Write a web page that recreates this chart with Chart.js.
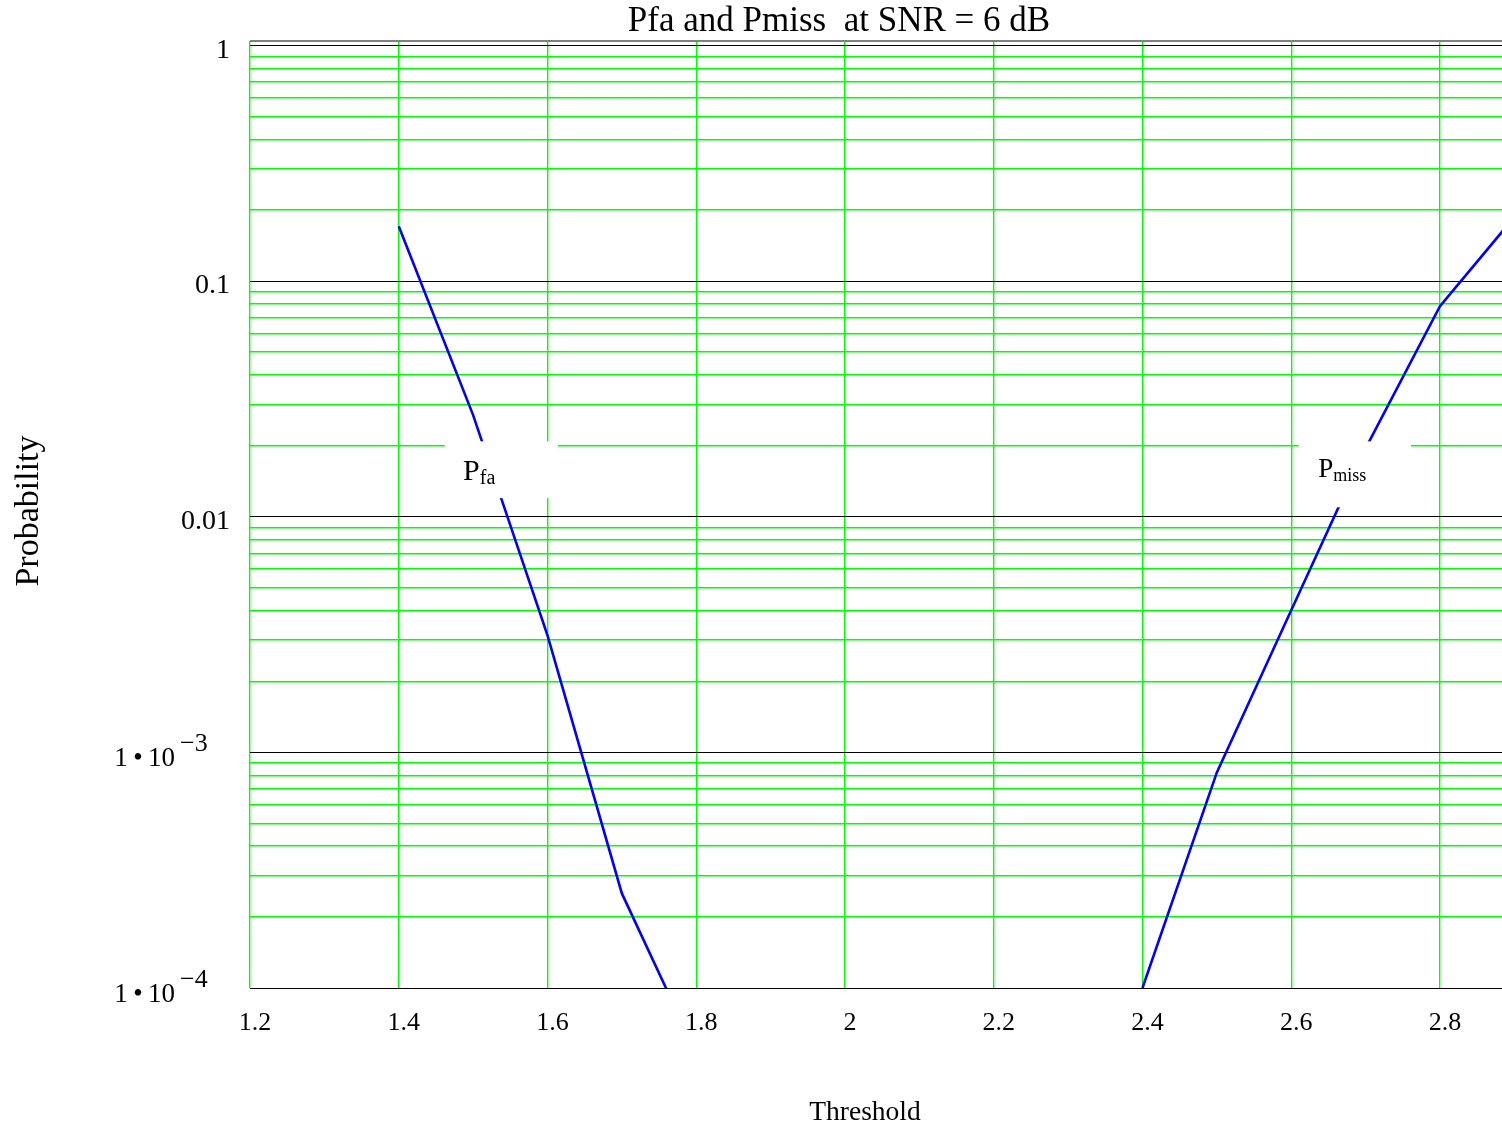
<!DOCTYPE html>
<html>
<head>
<meta charset="utf-8">
<title>Pfa and Pmiss at SNR = 6 dB</title>
<script src="https://cdn.jsdelivr.net/npm/chart.js@4/dist/chart.umd.min.js"></script>
<style>
  html, body { margin: 0; padding: 0; background: #fff; }
  canvas { display: block; }
</style>
</head>
<body>
<canvas id="probChart" width="1502" height="1128"></canvas>
<script>
// threshold samples and probabilities
const pfaThreshold = [1.4, 1.5, 1.6, 1.7, 1.8];
const pfaValues = [0.171, 0.027, 0.00314, 0.000252, 0.000053];

const pmissThreshold = [2.4, 2.5, 2.6, 2.7, 2.8, 2.9];
const pmissValues = [0.0001, 0.000822, 0.00401, 0.0195, 0.0783, 0.187];

// axis ticks
const xTickValues = [1.2, 1.4, 1.6, 1.8, 2, 2.2, 2.4, 2.6, 2.8];
const xTickLabels = ["1.2", "1.4", "1.6", "1.8", "2", "2.2", "2.4", "2.6", "2.8"];
const yTickValues = [1, 0.1, 0.01, 0.001, 0.0001];
const yTickLabels = ["1", "0.1", "0.01", "1\u202F\u2022\u202F10", "1\u202F\u2022\u202F10"];
const yTickExponents = ["", "", "", "\u22123", "\u22124"];

// curve labels (placed in data units)
const curveLabels = [
    { main: "P", sub: "fa", x: 1.4865, y: 0.01429, size: 30, box: [1.462, 1.614, 0.0209, 0.0120] },
    { main: "P", sub: "miss", x: 2.6363, y: 0.01471, size: 27, box: [2.610, 2.761, 0.0209, 0.01097] }
];

const serif = '"Liberation Serif", "Times New Roman", Times, serif';

const xMin = 1.2, xMax = 2.8834;
const yMin = 0.0001, yMax = 1.045;

// draws the tick labels, titles and curve labels
const textPlugin = {
    id: "textPlugin",
    afterDatasetsDraw(chart) {
        const ctx = chart.ctx;
        const xs = chart.scales.x, ys = chart.scales.y;
        ctx.save();
        curveLabels.forEach(l => {
            const x0 = xs.getPixelForValue(l.box[0]);
            const x1 = xs.getPixelForValue(l.box[1]);
            const y0 = ys.getPixelForValue(l.box[2]);
            const y1 = ys.getPixelForValue(l.box[3]);
            ctx.fillStyle = "#fff";
            ctx.fillRect(x0, y0, x1 - x0, y1 - y0);
            const px = xs.getPixelForValue(l.x);
            const py = ys.getPixelForValue(l.y);
            ctx.fillStyle = "#000";
            ctx.textAlign = "left";
            ctx.textBaseline = "alphabetic";
            ctx.font = l.size + "px " + serif;
            ctx.fillText(l.main, px, py);
            const w = ctx.measureText(l.main).width;
            ctx.font = Math.round(l.size * 0.68) + "px " + serif;
            ctx.fillText(l.sub, px + w, py + 4);
        });
        ctx.restore();
    },
    afterDraw(chart) {
        const ctx = chart.ctx;
        const xs = chart.scales.x, ys = chart.scales.y;
        ctx.save();
        ctx.fillStyle = "#000";
        ctx.textBaseline = "alphabetic";

        // x tick labels
        ctx.font = "26px " + serif;
        ctx.textAlign = "center";
        xTickValues.forEach((v, i) => {
            ctx.fillText(xTickLabels[i], xs.getPixelForValue(v) + 5, chart.chartArea.bottom + 42);
        });

        // y tick labels
        yTickValues.forEach((v, i) => {
            const py = ys.getPixelForValue(v);
            if (!yTickExponents[i]) {
                ctx.font = "28px " + serif;
                ctx.textAlign = "right";
                ctx.fillText(yTickLabels[i], 230, py + 12);
            } else {
                ctx.font = "27px " + serif;
                ctx.textAlign = "right";
                ctx.fillText(yTickLabels[i], 175, py + 14);
                ctx.textAlign = "left";
                ctx.font = "26px " + serif;
                ctx.fillText(yTickExponents[i], 180, py - 1);
            }
        });

        // title and axis titles
        ctx.textAlign = "center";
        ctx.font = "35px " + serif;
        ctx.fillText("Pfa and Pmiss  at SNR = 6 dB", 839, 31);
        ctx.font = "27.5px " + serif;
        ctx.fillText("Threshold", 865, 1120);
        ctx.save();
        ctx.translate(38, 511);
        ctx.rotate(-Math.PI / 2);
        ctx.font = "34px " + serif;
        ctx.fillText("Probability", 0, 0);
        ctx.restore();
        ctx.restore();
    }
};

document.addEventListener("DOMContentLoaded", () => {
    const el = document.getElementById("probChart");

    new Chart(el, {
        type: "line",
        data: {
            datasets: [
                {
                    label: "Pfa",
                    data: pfaThreshold.map((t, i) => ({ x: t, y: pfaValues[i] })),
                    borderColor: "#0000ff",
                    borderWidth: 2.6,
                    pointRadius: 0,
                    tension: 0,
                    clip: 0
                },
                {
                    label: "Pmiss",
                    data: pmissThreshold.map((t, i) => ({ x: t, y: pmissValues[i] })),
                    borderColor: "#0000ff",
                    borderWidth: 2.6,
                    pointRadius: 0,
                    tension: 0,
                    clip: 0
                }
            ]
        },
        options: {
            responsive: false,
            animation: false,
            devicePixelRatio: 1,
            layout: { padding: { left: 250, top: 41, right: 0, bottom: 140 } },
            plugins: {
                legend: { display: false },
                title: { display: false },
                tooltip: { enabled: false }
            },
            scales: {
                x: {
                    type: "linear",
                    min: xMin,
                    max: xMax,
                    afterBuildTicks: (scale) => {
                        scale.ticks = xTickValues.map(v => ({ value: v }));
                    },
                    ticks: { display: false },
                    border: { display: false },
                    grid: { color: "#00ff00", lineWidth: 1.4, drawTicks: false }
                },
                y: {
                    type: "logarithmic",
                    min: yMin,
                    max: yMax,
                    afterBuildTicks: (scale) => {
                        const t = [];
                        for (let e = -4; e <= 0; e++) {
                            for (let m = 1; m <= 9; m++) {
                                const v = m * Math.pow(10, e);
                                if (v > 1.0000001) break;
                                t.push({ value: v, major: m === 1 });
                            }
                        }
                        t.push({ value: yMax, major: false, edge: true });
                        scale.ticks = t;
                    },
                    ticks: { display: false },
                    border: { display: false },
                    grid: {
                        drawTicks: false,
                        color: (c) => {
                            if (c.tick && c.tick.edge) return "#808080";
                            return c.tick && c.tick.major ? "#000000" : "#00ff00";
                        },
                        lineWidth: (c) => {
                            if (c.tick && c.tick.edge) return 2;
                            return c.tick && c.tick.major ? 1 : 1.4;
                        }
                    }
                }
            }
        },
        plugins: [textPlugin]
    });
});
</script>
</body>
</html>
